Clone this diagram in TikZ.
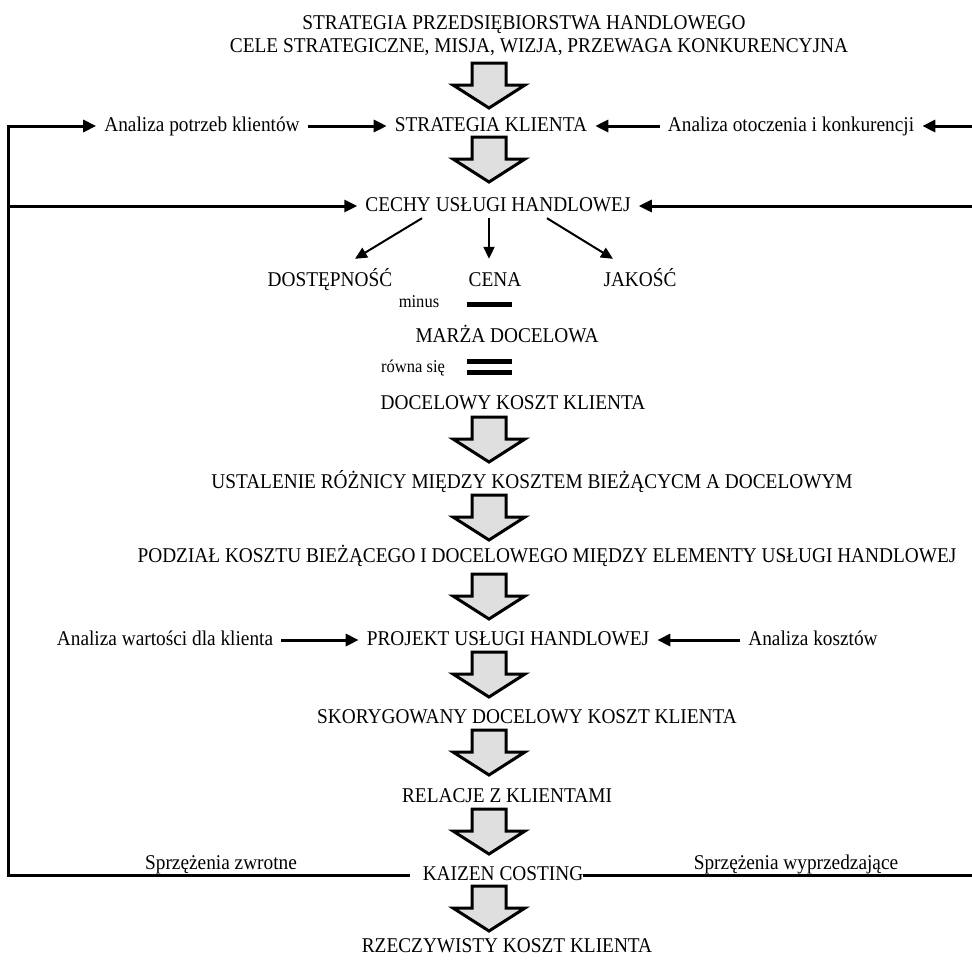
\documentclass[tikz,border=0pt]{standalone}
\usepackage{amsmath, amsfonts, amssymb}
\usepackage{xcolor}
\usepackage{fontspec}
\setmainfont{Liberation Serif}[FakeStretch=0.92]
\usepackage{tikz}
\usetikzlibrary{arrows.meta}

\begin{document}
\begin{tikzpicture}[x=1pt, y=-1pt,
  every node/.style={font=\fontsize{21}{24}\selectfont, inner xsep=8pt, inner ysep=2pt, text height=15pt, text depth=5pt},
  small/.style={font=\fontsize{18}{20}\selectfont},
  conn/.style={line width=3pt, line join=miter, -{Triangle[length=13pt,width=12pt]}},
  pointer/.style={line width=2pt, -{Triangle[length=12pt,width=11pt]}},
  loopline/.style={line width=3pt, line join=miter},
  bigarrow/.style={draw=black, line width=3pt, fill=gray!25, line join=miter},
  bar/.style={line width=5pt}]
\useasboundingbox (0,0) rectangle (972,959);

% tekst
\node (t1) at (524,24) {STRATEGIA PRZEDSIĘBIORSTWA  HANDLOWEGO};
\node (t2) at (539,47) {CELE STRATEGICZNE,  MISJA, WIZJA, PRZEWAGA  KONKURENCYJNA};
\node (klient) at (491,126) {STRATEGIA KLIENTA};
\node (potrzeby) at (202,126) {Analiza potrzeb klientów};
\node (otoczenie) at (791,126) {Analiza otoczenia i konkurencji};
\node (cechy) at (498,206) {CECHY USŁUGI HANDLOWEJ};
\node (dost) at (330,281) {DOSTĘPNOŚĆ};
\node (cena) at (495,281) {CENA};
\node (jakosc) at (640,281) {JAKOŚĆ};
\node[small] (minus) at (419,302) {minus};
\node (marza) at (507,337) {MARŻA DOCELOWA};
\node[small] (rowna) at (413,367) {równa się};
\node (docelowy) at (513,404) {DOCELOWY KOSZT KLIENTA};
\node (ustalenie) at (532,483) {USTALENIE  RÓŻNICY MIĘDZY KOSZTEM BIEŻĄCYCM A DOCELOWYM};
\node (podzial) at (547,557) {PODZIAŁ KOSZTU BIEŻĄCEGO I DOCELOWEGO MIĘDZY ELEMENTY  USŁUGI HANDLOWEJ};
\node (projekt) at (508,640) {PROJEKT USŁUGI HANDLOWEJ};
\node (wartosc) at (165,640) {Analiza wartości dla klienta};
\node (koszty) at (813,640) {Analiza kosztów};
\node (skoryg) at (527,718) {SKORYGOWANY DOCELOWY KOSZT KLIENTA};
\node (relacje) at (507,797) {RELACJE Z KLIENTAMI};
\node[inner xsep=0pt] (kaizen) at (503,875) {KAIZEN COSTING};
\node[text depth=0pt, inner ysep=1pt] (rzecz) at (507,945) {RZECZYWISTY KOSZT KLIENTA};
\node (zwrotne) at (221,864) {Sprzężenia zwrotne};
\node (wyprzedz) at (796,864) {Sprzężenia wyprzedzające};

% duze strzalki
\draw[bigarrow] (472,63) -- ++(34,0) -- ++(0,22) -- ++(19,0) -- ++(-36,23) -- ++(-36,-23) -- ++(19,0) -- cycle;
\draw[bigarrow] (472,137) -- ++(34,0) -- ++(0,22) -- ++(19,0) -- ++(-36,23) -- ++(-36,-23) -- ++(19,0) -- cycle;
\draw[bigarrow] (472,417) -- ++(34,0) -- ++(0,22) -- ++(19,0) -- ++(-36,23) -- ++(-36,-23) -- ++(19,0) -- cycle;
\draw[bigarrow] (472,495) -- ++(34,0) -- ++(0,22) -- ++(19,0) -- ++(-36,23) -- ++(-36,-23) -- ++(19,0) -- cycle;
\draw[bigarrow] (472,574) -- ++(34,0) -- ++(0,22) -- ++(19,0) -- ++(-36,23) -- ++(-36,-23) -- ++(19,0) -- cycle;
\draw[bigarrow] (472,652) -- ++(34,0) -- ++(0,22) -- ++(19,0) -- ++(-36,23) -- ++(-36,-23) -- ++(19,0) -- cycle;
\draw[bigarrow] (472,730) -- ++(34,0) -- ++(0,22) -- ++(19,0) -- ++(-36,23) -- ++(-36,-23) -- ++(19,0) -- cycle;
\draw[bigarrow] (472,809) -- ++(34,0) -- ++(0,22) -- ++(19,0) -- ++(-36,23) -- ++(-36,-23) -- ++(19,0) -- cycle;
\draw[bigarrow] (472,886) -- ++(34,0) -- ++(0,22) -- ++(19,0) -- ++(-36,23) -- ++(-36,-23) -- ++(19,0) -- cycle;

% minus i rowna sie
\draw[bar] (467,304) -- (512,304);
\draw[bar] (467,361) -- (512,361);
\draw[bar] (467,372) -- (512,372);

% strzalki
\draw[conn] (potrzeby.east) -- (klient.west);
\draw[conn] (otoczenie.west) -- (klient.east);
\draw[conn] (wartosc.east) -- (projekt.west);
\draw[conn] (koszty.west) -- (projekt.east);
\draw[pointer] ([xshift=-76pt]cechy.south) -- ([xshift=25pt,yshift=10pt]dost.north);
\draw[pointer] ([xshift=-9pt]cechy.south) -- ([xshift=-6pt,yshift=10pt]cena.north);
\draw[pointer] ([xshift=49pt]cechy.south) -- ([xshift=-27pt,yshift=10pt]jakosc.north);

% sprzezenia
\coordinate (lt) at (8,126);
\coordinate (lm) at (8,206);
\coordinate (rt) at (976,126);
\coordinate (rm) at (976,206);
\draw[conn] ([xshift=-13pt]kaizen.west) -| (lt) -- (lt -| potrzeby.west);
\draw[conn] (lm) -- (cechy.west);
\draw[loopline] (kaizen.east) -| (rt);
\draw[conn] (rt) -- (otoczenie.east);
\draw[conn] (rm) -- (cechy.east);
\end{tikzpicture}
\end{document}
